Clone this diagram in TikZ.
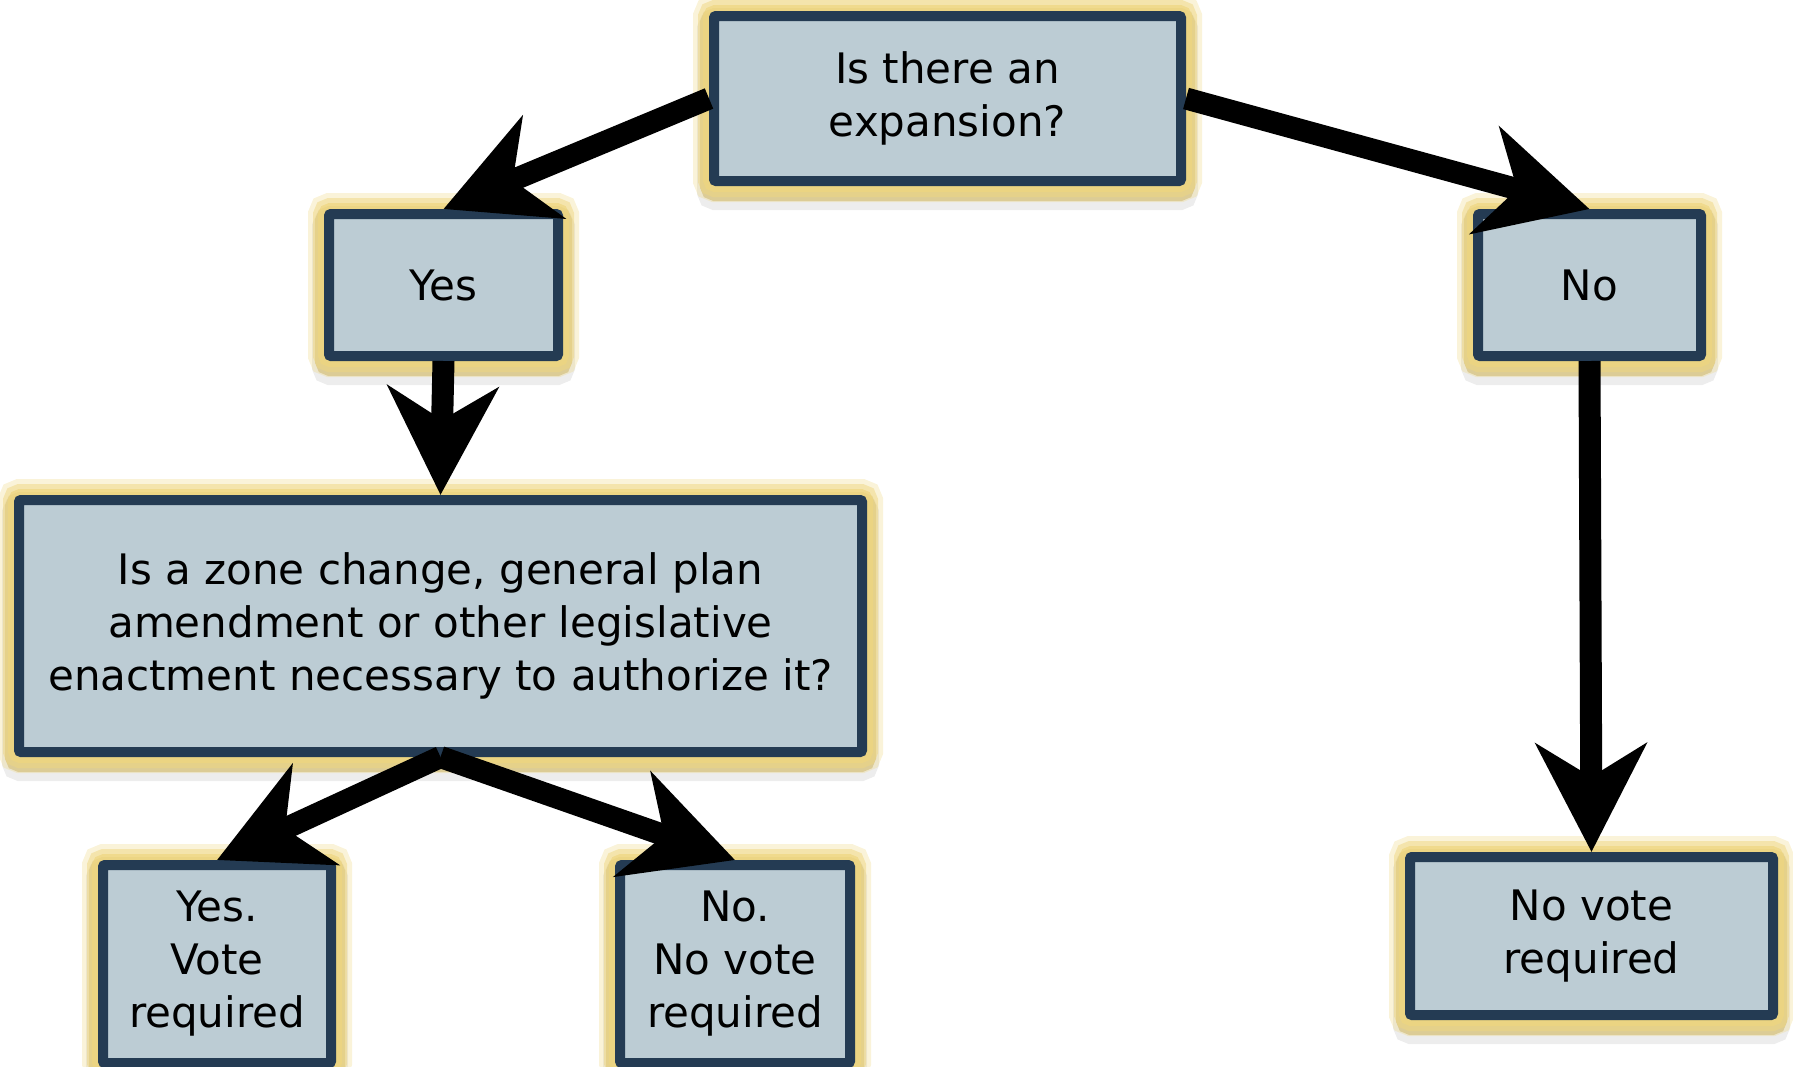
\documentclass[tikz,border=0pt]{standalone}
\usepackage{fontspec}
\setmainfont{DejaVu Sans}
\usepackage{xcolor}
\usetikzlibrary{arrows.meta}
\definecolor{boxfill}{RGB}{188,204,212}
\definecolor{boxline}{RGB}{36,59,83}
\definecolor{glow}{RGB}{238,214,128}
\definecolor{glowdark}{RGB}{190,165,85}

\begin{document}
\begin{tikzpicture}[x=1pt, y=-1pt,
    font=\fontsize{42}{53}\selectfont,
    box/.style={rectangle, draw=boxline, fill=boxfill, line width=10pt, rounded corners=2pt,
      align=center, inner sep=0pt,
      preaction={draw=black, line width=34pt, opacity=.07, transform canvas={yshift=-12pt}},
      preaction={draw=glowdark, line width=28pt, opacity=.5, transform canvas={yshift=-6pt}},
      preaction={draw=glow, line width=42pt, opacity=.3},
      preaction={draw=glow, line width=32pt, opacity=.5},
      preaction={draw=glow, line width=22pt, opacity=.7}},
    arrow/.style={line width=22pt, -{Stealth[length=108pt, width=110pt, inset=33pt]}}]
                            \useasboundingbox (0,0) rectangle (1793,1066);

                            \node (expansion) [box, minimum width=467pt, minimum height=165pt] at (947.5,98.5) {Is there an\\expansion?};
                            \node (yes) [box, minimum width=229pt, minimum height=142pt] at (443.5,285) {Yes};
                            \node (no) [box, minimum width=223pt, minimum height=142pt] at (1589.5,285) {No};
                            \node (zone) [box, minimum width=843pt, minimum height=252pt] at (440.5,626) {Is a zone change, general plan\\amendment or other legislative\\enactment necessary to authorize it?};
                            \node (yesvote) [box, minimum width=228pt, minimum height=198pt] at (217,964) {Yes.\\Vote\\required};
                            \node (novote) [box, minimum width=230pt, minimum height=198pt] at (735,964) {No.\\No vote\\required};
                            \node (novoteright) [box, minimum width=363pt, minimum height=158pt] at (1591.5,936) {No vote\\required};

                            \draw [arrow] (expansion.west) -- (yes.north);
                            \draw [arrow] (expansion.east) -- (no.north);
                            \draw [arrow] (yes.south) -- (zone.north);
                            \draw [arrow] (zone.south) -- (yesvote.north);
                            \draw [arrow] (zone.south) -- (novote.north);
                            \draw [arrow] (no.south) -- (novoteright.north);
                        \end{tikzpicture}
\end{document}
